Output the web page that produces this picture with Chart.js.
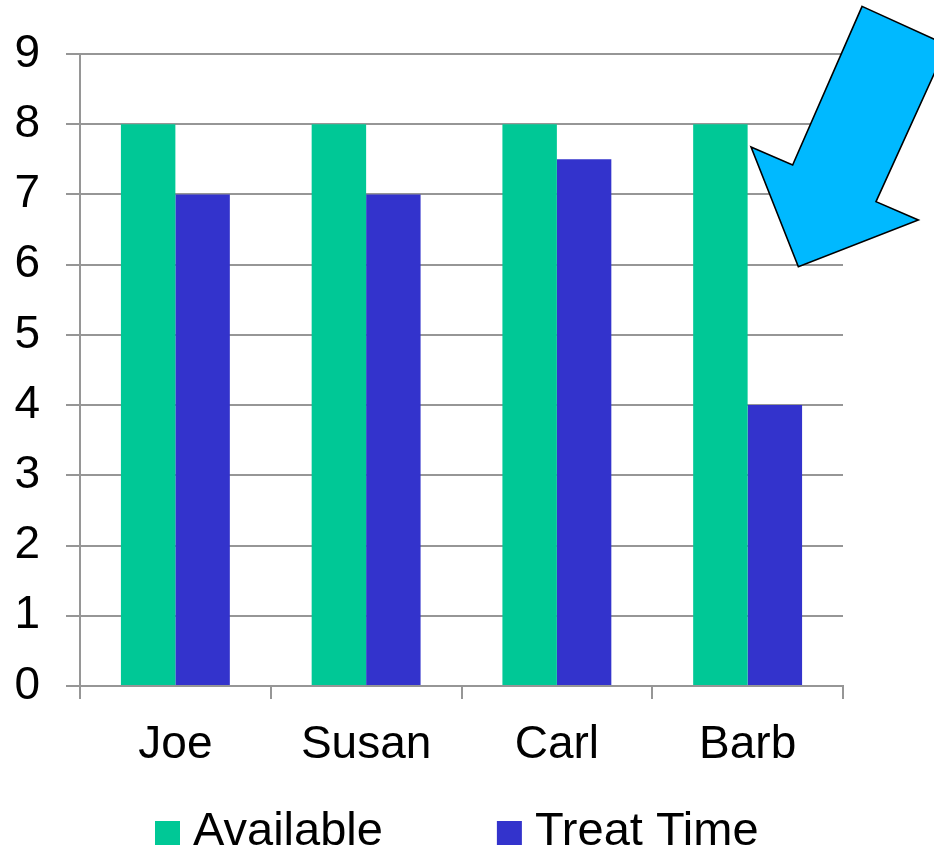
<!DOCTYPE html>
<html>
<head>
<meta charset="utf-8">
<title>Available vs Treat Time</title>
<script src="https://cdn.jsdelivr.net/npm/chart.js@4/dist/chart.umd.min.js"></script>
<style>
  html, body { margin: 0; padding: 0; background: #ffffff; }
  #wrap { width: 934px; height: 851px; position: relative; }
</style>
</head>
<body>
<div id="wrap"><canvas id="c" width="934" height="851"></canvas></div>
<script>
// Staff hours per person
const people = ['Joe', 'Susan', 'Carl', 'Barb'];
const availableHours = [8, 8, 8, 8];
const treatHours = [7, 7, 7.5, 4];
const seriesNames = ['Available', 'Treat Time'];
const yTicks = [0, 1, 2, 3, 4, 5, 6, 7, 8, 9];

const FONT = "'Liberation Sans', Arial, Helvetica, sans-serif";
const GRID = '#969696';

// Call-out arrow, given in chart units (category index, hours)
const calloutShape = [
  [3.600, 9.678], [4.046, 9.126], [3.673, 6.897], [3.895, 6.635],
  [3.266, 5.970], [3.018, 7.676], [3.236, 7.419]
];

const calloutArrow = {
  id: 'calloutArrow',
  afterDraw(chart) {
    const { ctx, scales: { x, y } } = chart;
    ctx.save();
    ctx.beginPath();
    calloutShape.forEach(([cx, cy], i) => {
      const px = x.getPixelForValue(cx);
      const py = y.getPixelForValue(cy);
      if (i === 0) ctx.moveTo(px, py); else ctx.lineTo(px, py);
    });
    ctx.closePath();
    ctx.fillStyle = '#00B9FF';
    ctx.fill();
    ctx.lineWidth = 1.6;
    ctx.lineJoin = 'miter';
    ctx.strokeStyle = '#000000';
    ctx.stroke();
    ctx.restore();
  }
};

// Legend row under the category labels
const legendRow = {
  id: 'legendRow',
  afterDraw(chart) {
    const { ctx } = chart;
    const box = 25, boxH = 24, textGap = 13, itemGap = 114;
    ctx.save();
    ctx.font = '47px ' + FONT;
    let cx = 155;
    const top = 821, baseline = 845;
    chart.data.datasets.forEach((ds, i) => {
      if (i) cx += itemGap;
      ctx.fillStyle = ds.backgroundColor;
      ctx.fillRect(cx, top, box, boxH);
      cx += box + textGap;
      ctx.fillStyle = '#000000';
      ctx.textBaseline = 'alphabetic';
      ctx.textAlign = 'left';
      ctx.fillText(ds.label, cx, baseline);
      cx += ctx.measureText(ds.label).width;
    });
    ctx.restore();
  }
};

new Chart(document.getElementById('c'), {
  type: 'bar',
  data: {
    labels: people,
    datasets: [
      { label: seriesNames[0], data: availableHours, backgroundColor: '#00C896', borderWidth: 0 },
      { label: seriesNames[1], data: treatHours, backgroundColor: '#3333CC', borderWidth: 0 }
    ]
  },
  options: {
    responsive: false,
    animation: false,
    devicePixelRatio: 1,
    layout: { padding: { top: 54, right: 91, bottom: 55, left: 0 } },
    datasets: { bar: { categoryPercentage: 0.571, barPercentage: 1.0 } },
    plugins: {
      legend: { display: false },
      tooltip: { enabled: false }
    },
    scales: {
      x: {
        grid: { display: true, drawOnChartArea: false, drawTicks: true, tickLength: 13, color: GRID, lineWidth: 2, offset: true },
        border: { display: true, color: GRID, width: 2 },
        ticks: { color: '#000000', font: { family: FONT, size: 46 }, padding: 19, maxRotation: 0 },
        afterFit(scale) { scale.height = 110; }
      },
      y: {
        min: 0, max: 9,
        afterBuildTicks(scale) { scale.ticks = yTicks.map(v => ({ value: v })); },
        grid: { color: GRID, lineWidth: 2, drawTicks: true, tickLength: 14 },
        border: { display: true, color: GRID, width: 2 },
        ticks: { color: '#000000', font: { family: FONT, size: 46 }, padding: 26 },
        afterFit(scale) { scale.width = 80; }
      }
    }
  },
  plugins: [calloutArrow, legendRow]
});
</script>
</body>
</html>
